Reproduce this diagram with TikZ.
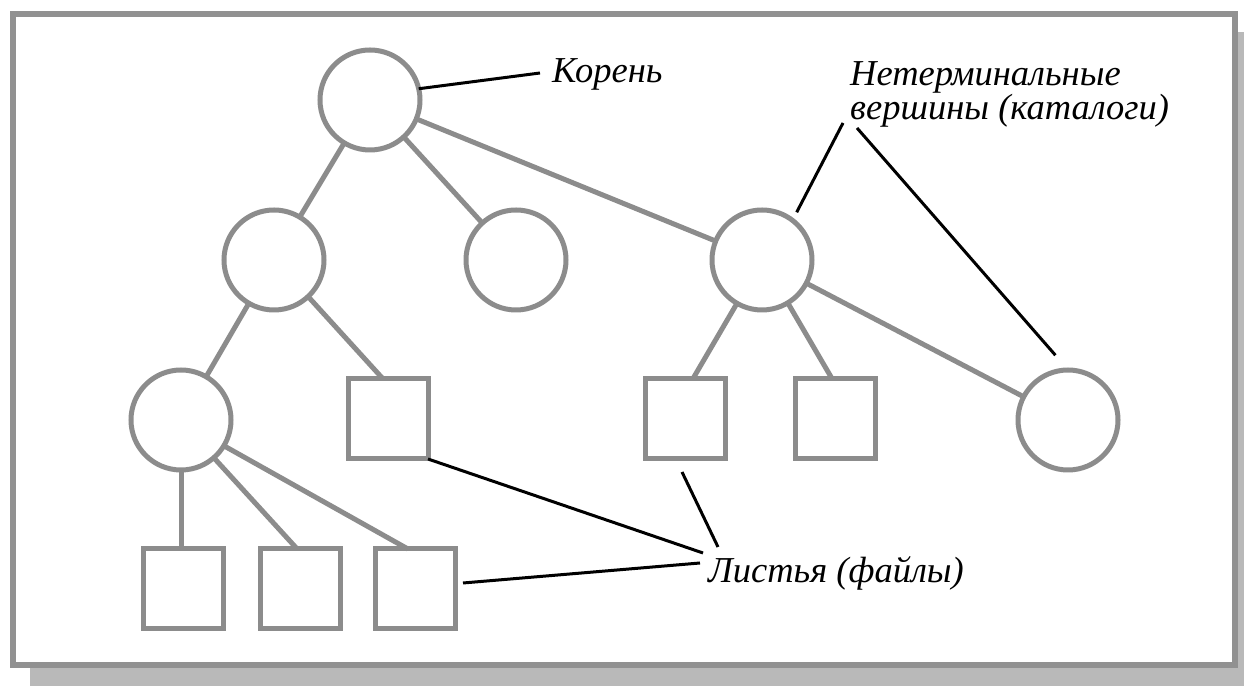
\documentclass[tikz,border=0pt]{standalone}
\usepackage{fontspec}
\setmainfont{Liberation Serif}
\usetikzlibrary{calc}
\definecolor{edgegray}{RGB}{140,140,140}
\definecolor{framegray}{RGB}{145,145,145}
\definecolor{shadowgray}{RGB}{185,185,185}
\begin{document}
\begin{tikzpicture}[x=1bp,y=1bp,
  vert/.style={circle,draw=edgegray,line width=5bp,minimum size=100bp,inner sep=0pt,outer sep=0pt},
  leaf/.style={rectangle,draw=edgegray,line width=5bp,minimum size=80bp,inner sep=0pt,outer sep=0pt},
  edge/.style={draw=edgegray,line width=5bp},
  pointer/.style={draw=black,line width=3bp},
  lbl/.style={font=\itshape\fontsize{36.5bp}{33bp}\selectfont,inner sep=0pt,anchor=base west}]
\useasboundingbox (0,0) rectangle (1244,686);
\fill[white] (0,0) rectangle (1244,686);
\fill[shadowgray] (30,0) rectangle (1244,654);
\draw[framegray,line width=6bp,fill=white] (13,21) rectangle (1235,672);

% tree nodes
\node[vert] (root) at (370,586) {};
\node[vert] (l2a) at (274,426) {};
\node[vert] (l2b) at (516,426) {};
\node[vert] (l2c) at (762,426) {};
\node[vert] (l3) at (181,266) {};
\node[leaf] (sq1) at (388,267) {};
\node[leaf] (sq3) at (685,267) {};
\node[leaf] (sq4) at (835,267) {};
\node[vert] (far) at (1068,266) {};
\node[leaf] (b1) at (183,97) {};
\node[leaf] (b2) at (300,97) {};
\node[leaf] (b3) at (415,97) {};

% tree edges
\draw[edge] (root) -- (l2a);
\draw[edge] (root) -- (l2b);
\draw[edge] (root) -- (l2c);
\draw[edge] (l2a) -- (l3);
\draw[edge] (l2a.-47) -- (sq1.97);
\draw[edge] (l2c.240) -- (sq3.79);
\draw[edge] (l2c.-59) -- (sq4.94);
\draw[edge] (l2c) -- (far);
\draw[edge] (l3.south) -- (l3.south |- b1.north);
\draw[edge] (l3.-49) -- (b2.94);
\draw[edge] (l3.-31) -- (b3.100);

% labels
\node[lbl] (kor) at (552,603) {Корень};
\node[lbl,align=left] (nt) at (850,566) {Нетерминальные\\вершины (каталоги)};
\node[lbl] (lst) at (708,103) {Листья (файлы)};

% label pointers
\coordinate (korend) at ($(kor.base west)+(-12,10)$);
\draw[pointer] (root.13) -- (korend);

\coordinate (ntA) at (843,563);
\coordinate (ntB) at (857,558);
\draw[pointer] ($(l2c.center)+(54:59)$) -- (ntA);
\draw[pointer] (ntB) -- ($(far.center)+(101:66)$);

\coordinate (lstA) at ($(lst.base west)+(-5,30)$);
\coordinate (lstB) at ($(lst.base west)+(10,36)$);
\coordinate (lstC) at ($(lst.base west)+(-8,20)$);
\draw[pointer] (sq1.south east) -- (lstA);
\draw[pointer] ($(sq3.south)+(-3,-13)$) -- (lstB);
\draw[pointer] ($(b3.east)+(8,6)$) -- (lstC);
\end{tikzpicture}
\end{document}
